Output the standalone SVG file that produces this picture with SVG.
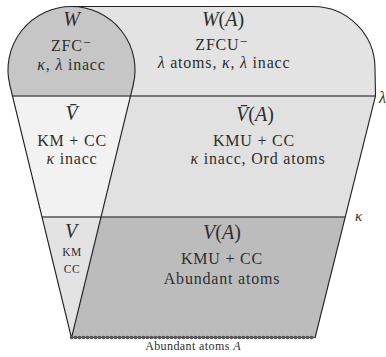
<svg xmlns="http://www.w3.org/2000/svg" width="386" height="357" viewBox="0 0 386 357">
<style>
text{font-family:"Liberation Serif","DejaVu Serif",serif;fill:#2e2e2e;text-anchor:middle}
.t{font-size:16px;letter-spacing:0.8px}
.m{font-size:20px}
.i{font-style:italic}
.s{font-size:11.5px;letter-spacing:0.6px}
.edge{fill:none;stroke:#222;stroke-width:1.1}
.hl{fill:none;stroke:#555;stroke-width:1.6}
</style>
<rect width="386" height="357" fill="#fff"/>
<g id="WA">
<path d="M71.5 6.5 L313 6.5 A62 62 0 0 1 375 68.5 L375.5 96 L71.5 96 Z" fill="#e3e3e3"/>
<text class="m" x="223" y="26"><tspan class="i">W</tspan>(<tspan class="i">A</tspan>)</text>
<text class="t" x="222" y="50">ZFCU⁻</text>
<text class="t" x="224" y="68"><tspan class="i">λ</tspan> atoms, <tspan class="i">κ</tspan>, <tspan class="i">λ</tspan> inacc</text>
</g>
<g id="W">
<path d="M12.45 96 L9.8 85 A63.5 63.5 0 1 1 133.2 85 L130.55 96 Z" fill="#c6c6c6"/>
<text class="m i" x="71.5" y="26">W</text>
<text class="t" x="71.5" y="51">ZFC⁻</text>
<text class="t" x="71.5" y="70"><tspan class="i">κ</tspan>, <tspan class="i">λ</tspan> inacc</text>
</g>
<g id="VbarA">
<path d="M71.5 96 L375.5 96 L345.25 217 L71.5 217 Z" fill="#e1e1e1"/>
<text class="m" x="255" y="121"><tspan class="i">V̄</tspan>(<tspan class="i">A</tspan>)</text>
<text class="t" x="254" y="146">KMU + CC</text>
<text class="t" x="258" y="164"><tspan class="i">κ</tspan> inacc, Ord atoms</text>
</g>
<g id="Vbar">
<path d="M12.45 96 L130.55 96 L101 217 L42 217 Z" fill="#f2f2f2"/>
<text class="m i" x="71.5" y="120">V̄</text>
<text class="t" x="72" y="146">KM + CC</text>
<text class="t" x="72" y="164"><tspan class="i">κ</tspan> inacc</text>
</g>
<g id="VA">
<path d="M71.5 217 L345.25 217 L315 338 L71.5 338 Z" fill="#bcbcbc"/>
<text class="m" x="222" y="239"><tspan class="i">V</tspan>(<tspan class="i">A</tspan>)</text>
<text class="t" x="222" y="264">KMU + CC</text>
<text class="t" x="222" y="284">Abundant atoms</text>
</g>
<g id="V">
<path d="M42 217 L101 217 L71.5 338 Z" fill="#e3e3e3"/>
<text class="m i" x="71" y="238">V</text>
<text class="s" x="72" y="256">KM</text>
<text class="s" x="72" y="273">CC</text>
</g>
<g id="connectors">
<line class="hl" x1="12.45" y1="96" x2="375.5" y2="96"/>
<line class="hl" x1="42" y1="217" x2="345.25" y2="217"/>
<path class="edge" d="M71.5 338 L9.8 85 A63.5 63.5 0 1 1 133.2 85 L71.5 338"/>
<path class="edge" d="M71.5 6.5 L313 6.5 A62 62 0 0 1 375 68.5 L375.5 96 L315 338"/>
<line x1="71.5" y1="337.5" x2="315" y2="337.5" stroke="#555" stroke-width="1.5"/>
<line x1="71.5" y1="337.5" x2="315" y2="337.5" stroke="#555" stroke-width="3.6" stroke-linecap="round" stroke-dasharray="0 4"/>
</g>
<g id="labels">
<text class="i" x="355" y="221" style="font-size:15px;text-anchor:start">κ</text>
<text class="i" x="379" y="103" style="font-size:16px;text-anchor:start">λ</text>
<text x="193" y="350" style="font-size:12px;letter-spacing:0.4px">Abundant atoms <tspan class="i">A</tspan></text>
</g>
</svg>
